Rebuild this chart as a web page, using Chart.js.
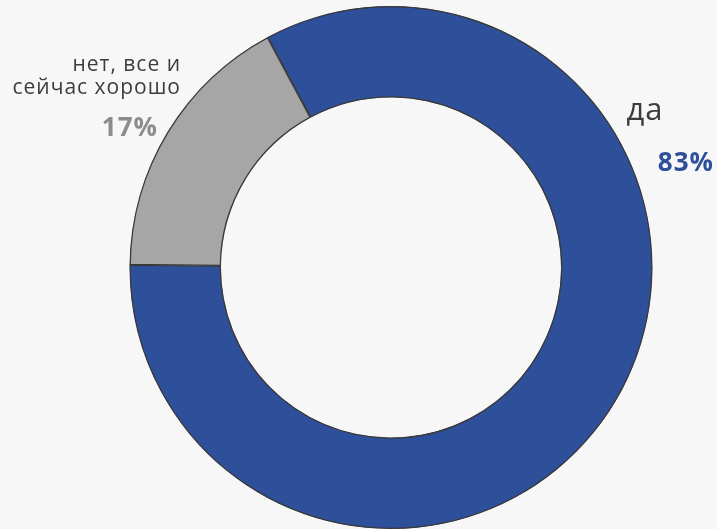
<!DOCTYPE html>
<html>
<head>
<meta charset="utf-8">
<script src="https://cdn.jsdelivr.net/npm/chart.js@4"></script>
<style>
  html, body { margin: 0; padding: 0; background: #f7f7f7; }
  #wrap { width: 717px; height: 529px; position: relative; }
</style>
</head>
<body>
<div id="wrap"><canvas id="chart"></canvas></div>
<script>
// Chart data
const labels = ['да', 'нет, все и\nсейчас хорошо'];
const values = [83, 17];
const sliceColors = ['#2e4f9a', '#a6a6a6'];
const pctColors = ['#2e4f9a', '#8c8c8c'];

// Outside labels: category name + bold percentage
const sideLabels = {
  id: 'sideLabels',
  afterDraw(chart) {
    const ctx = chart.ctx;
    const total = values.reduce((a, b) => a + b, 0);
    ctx.save();
    ctx.textBaseline = 'alphabetic';

    // "да" on the right
    ctx.fillStyle = '#3c3c3c';
    ctx.textAlign = 'center';
    ctx.letterSpacing = '1px';
    ctx.font = '31px "Open Sans"';
    ctx.fillText(labels[0], 645, 120);
    ctx.font = 'bold 26px "Open Sans"';
    ctx.fillStyle = pctColors[0];
    ctx.textAlign = 'right';
    ctx.fillText(Math.round(values[0] / total * 100) + '%', 714, 171);

    // second label on the left
    ctx.fillStyle = '#3c3c3c';
    ctx.font = '21px "Open Sans"';
    ctx.textAlign = 'right';
    labels[1].split('\n').forEach((line, i) => {
      ctx.fillText(line, 181, 71 + i * 23);
    });
    ctx.font = 'bold 26px "Open Sans"';
    ctx.fillStyle = pctColors[1];
    ctx.fillText(Math.round(values[1] / total * 100) + '%', 158, 136);
    ctx.restore();
  }
};

new Chart(document.getElementById('chart'), {
  type: 'doughnut',
  data: {
    labels: labels,
    datasets: [{
      data: values,
      backgroundColor: sliceColors,
      borderColor: '#3a3a3a',
      borderWidth: 1,
      borderAlign: 'inner'
    }]
  },
  options: {
    responsive: true,
    maintainAspectRatio: false,
    animation: false,
    rotation: -28.2,
    cutout: '65%',
    layout: { padding: { left: 129, right: 64, top: 6, bottom: -1 } },
    plugins: {
      legend: { display: false },
      tooltip: { enabled: false }
    }
  },
  plugins: [sideLabels]
});
</script>
</body>
</html>
